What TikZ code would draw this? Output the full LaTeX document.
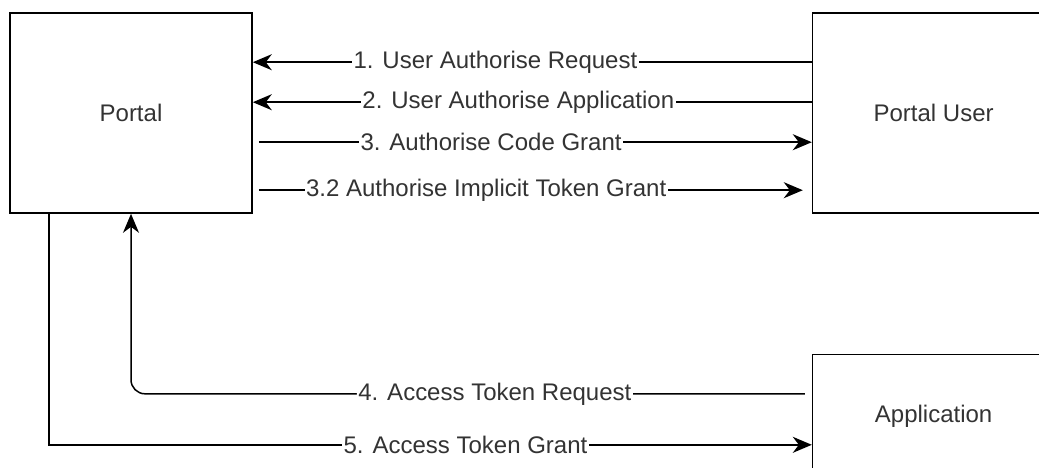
\documentclass[tikz,border=0pt]{standalone}
\usepackage{fontspec}
\setmainfont{Liberation Sans}
\usetikzlibrary{arrows.meta,positioning}

\begin{document}
\begin{tikzpicture}[x=1pt, y=-1pt, node distance={140pt},
  box/.style = {draw, line width=1.6pt, minimum width=242pt, minimum height=200pt, text=black!80, font=\fontsize{24}{28}\selectfont},
  flow/.style = {line width=1.5pt, -{Stealth[length=19pt, width=16pt, inset=6pt]}},
  lbl/.style = {fill=white, inner sep=1.5pt, text=black!80, font=\fontsize{24}{28}\selectfont}]
\useasboundingbox (0,0) rectangle (1039,467);
\clip (0,0) rectangle (1039,467);

\node[box] (portal) at (131,113) {Portal};
\node[box] (user) [right=559pt of portal] {Portal User};
\node[box, minimum height=124pt, anchor=north] (app) at ([yshift=-140pt]user.south) {Application};

\draw[flow] ([yshift=-50pt]user.north west) -- node[lbl, pos=0.566] {1. User Authorise Request} ([yshift=-50pt]portal.north east);
\draw[flow] ([yshift=-90pt]user.north west) -- node[lbl, pos=0.525] {2. User Authorise Application} ([yshift=-90pt]portal.north east);
\draw[flow] ([xshift=6pt, yshift=-130pt]portal.north east) -- node[lbl, pos=0.42] {3. Authorise Code Grant} ([yshift=-130pt]user.north west);
\draw[flow] ([xshift=6pt, yshift=-178pt]portal.north east) -- node[lbl, pos=0.418] {3.2 Authorise Implicit Token Grant} ([xshift=-9pt, yshift=-178pt]user.north west);

\draw[flow, rounded corners=14pt] ([xshift=-7pt, yshift=-40pt]app.north west) -| node[lbl, pos=0.23] {4. Access Token Request} (portal.south);
\draw[flow] ([xshift=-82pt]portal.south) |- node[lbl, pos=0.773] {5. Access Token Grant} ([yshift=-91pt]app.north west);

\end{tikzpicture}
\end{document}
